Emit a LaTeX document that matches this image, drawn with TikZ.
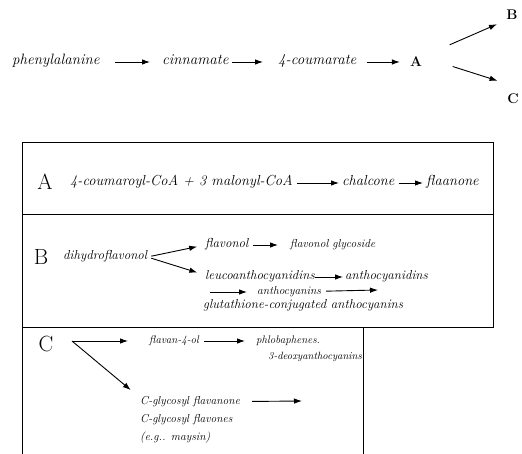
\documentclass[tikz,border=0pt]{standalone}
\usepackage{tikz}
\usetikzlibrary{arrows.meta,positioning}
\tikzstyle{cmpd} = [inner sep=0pt, anchor=west, font=\itshape\fontsize{15}{17}\selectfont,
    text height=8pt, text depth=2pt]
\tikzstyle{cmpda} = [cmpd, font=\itshape\fontsize{14.5}{17}\selectfont]
\tikzstyle{cmpdb} = [cmpd, font=\itshape\fontsize{13}{15}\selectfont, text height=7pt]
\tikzstyle{cmpdc} = [cmpd, font=\itshape\fontsize{11.5}{13}\selectfont, text height=6pt]
\tikzstyle{branch} = [inner sep=0pt, font=\bfseries\fontsize{14}{16}\selectfont,
    text height=10pt, text depth=0pt]
\tikzstyle{boxlabel} = [inner sep=0pt, font=\fontsize{22}{24}\selectfont]
\tikzstyle{frame} = [draw, line width=1pt]
\tikzstyle{line} = [draw, line width=0.9pt, -{Latex[length=8pt,width=5.5pt]}]

\begin{document}
\begin{tikzpicture}[x=1pt, y=-1pt]
        \useasboundingbox (0,0) rectangle (522,454);
        % Main pathway
        \node [cmpd] (phe) at (12,62) {phenylalanine};
        \node [cmpd] (cin) at (162,62) {cinnamate};
        \node [cmpd] (cou) at (278,62) {4-coumarate};
        \node [branch] (A) at (416,62) {A};
        \node [branch] (B) at (512,15) {B};
        \node [branch] (C) at (513,99) {C};
        
        \path [line, shorten <=15pt, shorten >=12pt] (phe) -- (cin);
        \path [line, shorten <=3pt, shorten >=15pt] (cin) -- (cou);
        \path [line, shorten <=10pt, shorten >=10pt] (cou) -- (A);
        \path [line, shorten <=30pt, shorten >=10pt] (A.north east) -- (B.south west);
        \path [line, shorten <=32pt, shorten >=10pt] (A.north east) -- ([yshift=10pt]C.north west);
        
        % Boxes
        \draw [frame] (22,143) rectangle (493,215);
        \draw [frame] (22,215) rectangle (493,327);
        \draw [frame] (22,454) |- (363,327) -- (363,454);
        
        % Box A
        \node [boxlabel] (labA) at (45,182) {A};
        \node [cmpda] (coa) at (70,183) {4-coumaroyl-CoA + 3 malonyl-CoA};
        \node [cmpda] (chal) at (342,183) {chalcone};
        \node [cmpda] (flav) at (426,183) {flaanone};
        \path [line, shorten <=4pt, shorten >=3pt] (coa) -- (chal);
        \path [line, shorten <=4pt, shorten >=3pt] (chal) -- (flav);
        
        % Box B
        \node [boxlabel] (labB) at (41,257) {B};
        \node [cmpdb] (dhf) at (63,257) {dihydroflavonol};
        \node [cmpdb] (fol) at (205,245) {flavonol};
        \node [cmpdb, font=\itshape\fontsize{11.5}{13}\selectfont] (fgly) at (290,245) {flavonol glycoside};
        \node [cmpdb] (leuco) at (205,277) {leucoanthocyanidins};
        \node [cmpdb] (acy) at (345,277) {anthocyanidins};
        \coordinate (b1) at (210,292);
        \node [cmpdb, font=\itshape\fontsize{11.5}{13}\selectfont] (acn) at (257,292) {anthocyanins};
        \coordinate (b2) at (378,290);
        \node [cmpdb] (glut) at (203,306) {glutathione-conjugated anthocyanins};
        \path [line, shorten <=4pt, shorten >=8pt] (dhf.east) -- (fol.west);
        \path [line, shorten <=4pt, shorten >=8pt] (dhf.east) -- ([yshift=2pt]leuco.west);
        \path [line, shorten <=4pt, shorten >=12pt] (fol) -- (fgly);
        \path [line, shorten <=0pt, shorten >=2pt] (leuco) -- (acy);
        \path [line, shorten >=10pt] (b1) -- (acn);
        \path [line, shorten <=5pt] (acn) -- (b2);
        
        % Box C
        \node [boxlabel] (labC) at (46,344) {C};
        \coordinate (cfork) at (72,341);
        \node [cmpdc, font=\itshape\fontsize{11}{13}\selectfont] (f4ol) at (149,341) {flavan-4-ol};
        \node [cmpdc, font=\itshape\fontsize{11}{13}\selectfont] (phlob) at (256,341) {phlobaphenes.};
        \node [cmpdc, font=\itshape\fontsize{10.5}{12}\selectfont] (deoxy) at (268,357) {3-deoxyanthocyanins};
        \node [cmpdc] (cgly) at (140,402) {C-glycosyl flavanone};
        \node [cmpdc] (cglys) at (140,420) {C-glycosyl flavones};
        \node [cmpdc] (maysin) at (140,438) {(e.g.. maysin)};
        \coordinate (c1) at (302,401);
        \path [line, shorten >=21pt] (cfork) -- (f4ol);
        \path [line, shorten <=5pt, shorten >=11pt] (f4ol) -- (phlob);
        \path [line, shorten >=12pt] (cfork) -- (cgly.north west);
        \path [line, shorten <=12pt] (cgly) -- (c1);
\end{tikzpicture}
\end{document}
